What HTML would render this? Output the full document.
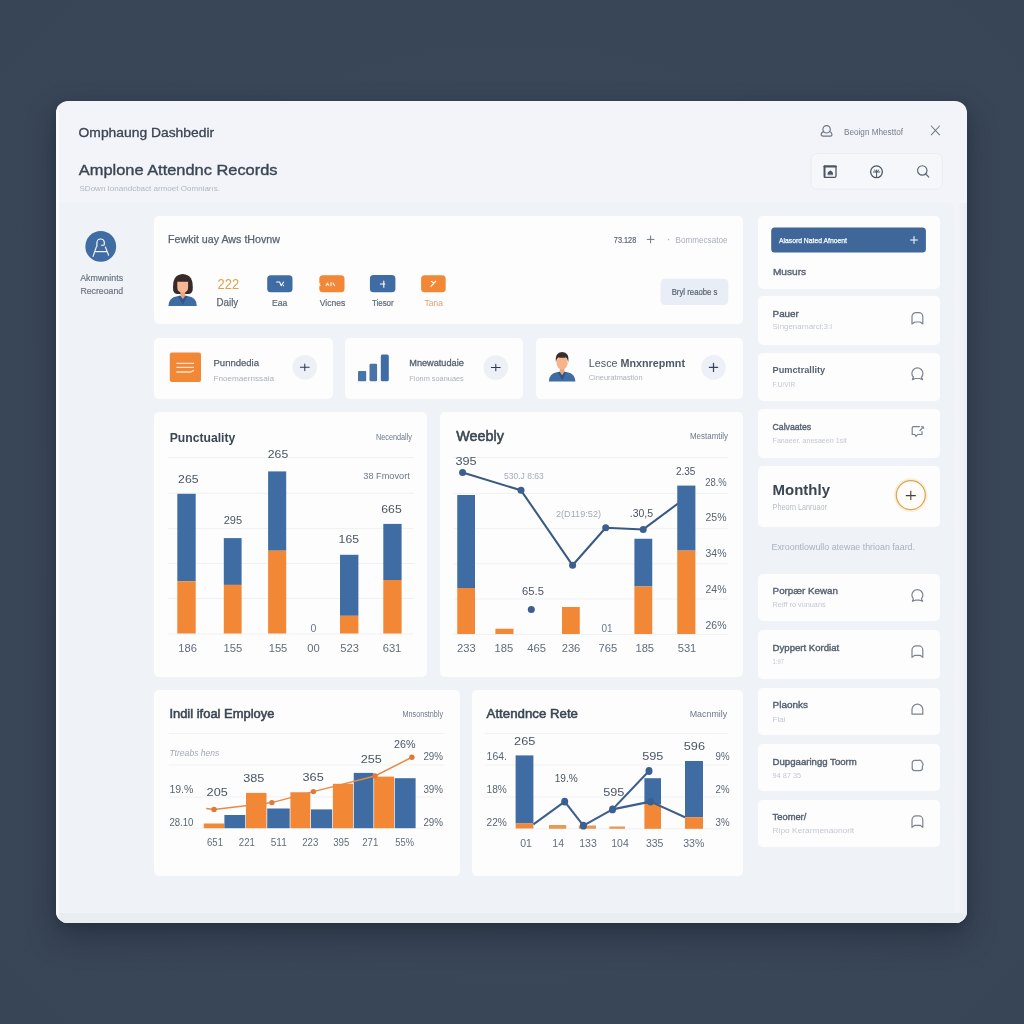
<!DOCTYPE html>
<html lang="en"><head><meta charset="utf-8"><title>Attendance Dashboard</title>
<style>
html,body{margin:0;padding:0;}
body{width:1024px;height:1024px;overflow:hidden;position:relative;background:#394657;
 background:radial-gradient(ellipse 900px 900px at 50% 50%, #3b485a 0%, #394657 60%, #374454 100%);
 font-family:"Liberation Sans",sans-serif;}
.win{position:absolute;left:56.2px;top:101px;width:911px;height:822.4px;border-radius:12px;background:#f2f4f9;
 box-shadow:0 14px 30px rgba(18,26,40,.36),0 3px 8px rgba(18,26,40,.22);overflow:hidden;}
.inner{position:absolute;left:0;top:101.8px;width:911px;height:721px;background:#eff2f7;}
.rstrip{position:absolute;left:898.5px;top:101.8px;width:12.5px;height:721px;background:linear-gradient(90deg,#f3f5f9,#eaedf2);}
.lip{position:absolute;left:0;top:811.6px;width:911px;height:11px;background:linear-gradient(180deg,#e9ecf1 0,#e9ecf1 85%,#f6f8fb 100%);}
.lrim{position:absolute;left:0;top:0;width:2.5px;height:100%;background:rgba(255,255,255,.7);}
.card{position:absolute;background:#fdfdfe;border-radius:5px;}
svg text{font-family:"Liberation Sans",sans-serif;}
#ov{position:absolute;left:0;top:0;}
</style></head><body>
<div class="win"><div class="inner"></div><div class="rstrip"></div><div class="lip"></div><div class="lrim"></div></div>
<!-- cards (absolute page coords) -->
<div class="card" style="left:153.5px;top:216.3px;width:589px;height:107.5px"></div>
<div class="card" style="left:153.5px;top:337.5px;width:179px;height:61.2px"></div>
<div class="card" style="left:345px;top:337.5px;width:177.5px;height:61.2px"></div>
<div class="card" style="left:535.5px;top:337.5px;width:207px;height:61.2px"></div>
<div class="card" style="left:153.5px;top:412px;width:273.5px;height:265px"></div>
<div class="card" style="left:440px;top:412px;width:302.7px;height:265px"></div>
<div class="card" style="left:153.5px;top:689.8px;width:306px;height:186px"></div>
<div class="card" style="left:472px;top:689.8px;width:270.8px;height:186px"></div>
<div class="card" style="left:757.5px;top:216.3px;width:182.5px;height:72.3px"></div>
<div class="card" style="left:757.5px;top:465.6px;width:182.5px;height:61.4px"></div>
<div class="card" style="left:757.5px;top:296.2px;width:182.5px;height:48.7px"></div><div class="card" style="left:757.5px;top:353px;width:182.5px;height:47.8px"></div><div class="card" style="left:757.5px;top:409px;width:182.5px;height:48.9px"></div><div class="card" style="left:757.5px;top:574.2px;width:182.5px;height:47.3px"></div><div class="card" style="left:757.5px;top:630px;width:182.5px;height:48.7px"></div><div class="card" style="left:757.5px;top:687.7px;width:182.5px;height:47.3px"></div><div class="card" style="left:757.5px;top:743.6px;width:182.5px;height:47.9px"></div><div class="card" style="left:757.5px;top:800px;width:182.5px;height:46.8px"></div>
<svg id="ov" width="1024" height="1024" viewBox="0 0 1024 1024">
<!-- header -->
<text x="78.6" y="132.3" font-size="13" fill="#3a4551" font-weight="400" text-anchor="start" dominant-baseline="central" textLength="135.5" lengthAdjust="spacingAndGlyphs" stroke="#3a4551" stroke-width="0.3">Omphaung Dashbedir</text>
<text x="78.8" y="169.3" font-size="15.4" fill="#3a4653" font-weight="400" text-anchor="start" dominant-baseline="central" textLength="198.7" lengthAdjust="spacingAndGlyphs" stroke="#3a4653" stroke-width="0.38">Amplone Attendnc Records</text>
<text x="79.5" y="188" font-size="8" fill="#b1b7c1" font-weight="400" text-anchor="start" dominant-baseline="central" textLength="140.5" lengthAdjust="spacingAndGlyphs">SDown Ionandcbact armoet Oomniarıs.</text>
<!-- user -->
<g fill="none" stroke="#6b7480" stroke-width="1.15" stroke-linecap="round" stroke-linejoin="round">
<circle cx="826.6" cy="129.3" r="3.7"/>
<path d="M823.6 131.6 q-2.6 1 -2.4 3.2 q0.2 1.3 1.8 1.3 h7.4 q1.6 0 1.6 -1.4 q0 -2.1 -2.2 -3.1"/>
<path d="M931.3 126 L939.5 134.8 M939.5 126 L931.3 134.8" stroke="#6e7783" stroke-width="1.05"/>
</g>
<text x="844" y="131.9" font-size="8.5" fill="#727c89" font-weight="400" text-anchor="start" dominant-baseline="central" textLength="59" lengthAdjust="spacingAndGlyphs">Beoign Mhesttof</text>
<rect x="811" y="153.4" width="131.3" height="35.8" rx="6" fill="#f5f7fa" stroke="#e9ecf1" stroke-width="1"/>
<g fill="none" stroke="#4d5663" stroke-width="1.3" stroke-linecap="round" stroke-linejoin="round">
<rect x="824.4" y="166.2" width="11.6" height="11.2" rx="1.5"/>
<path d="M824.4 166.5 h11.6" stroke-width="2"/>
<path d="M824.6 166.2 v11" stroke-width="1.8"/>
<path d="M827.8 174.4 q-0.4 -2.4 2.4 -3.6 q3 1 2.6 3.6 z" fill="#4d5663" stroke-width="0.6"/>
<circle cx="876.5" cy="171.8" r="5.9"/>
<path d="M873.4 172 h6.4 M876.6 170 v7.4 M874.4 170 l2.2 2 l2.2 -2" stroke-width="1"/>
<circle cx="922.3" cy="170.4" r="4.7" stroke="#5b6470" stroke-width="1.15"/>
<path d="M925.8 174 L928.8 177.2" stroke="#5b6470" stroke-width="1.15"/>
</g>
<!-- left nav -->
<circle cx="100.75" cy="246.4" r="15.4" fill="#3f6da3"/>
<g fill="none" stroke="#ffffff" stroke-width="1.15" stroke-linecap="round" stroke-linejoin="round">
<path d="M96.9 246.4 V242.8 a3.7 3.7 0 0 1 7.4 -0.2 q0.1 2.6 -0.6 2.6 h-2.2"/>
<path d="M96.3 247 L93.1 256.4 M105.4 247 L108.6 255.2 M95 251.6 H106.8" opacity=".92"/>
</g>
<text x="80.2" y="277.4" font-size="9.8" fill="#6a7684" font-weight="400" text-anchor="start" dominant-baseline="central" textLength="42.9" lengthAdjust="spacingAndGlyphs" stroke="#6a7684" stroke-width="0.2">Akmwnints</text>
<text x="80.4" y="290" font-size="9.8" fill="#6a7684" font-weight="400" text-anchor="start" dominant-baseline="central" textLength="42.7" lengthAdjust="spacingAndGlyphs" stroke="#6a7684" stroke-width="0.2">Recreoand</text>
<!-- top card -->
<text x="168" y="239.5" font-size="10.3" fill="#5a6471" font-weight="400" text-anchor="start" dominant-baseline="central" textLength="112" lengthAdjust="spacingAndGlyphs" stroke="#5a6471" stroke-width="0.25">Fewkit uay Aws tHovnw</text>
<text x="613.8" y="239.5" font-size="8.8" fill="#5d6876" font-weight="400" text-anchor="start" dominant-baseline="central" textLength="22.5" lengthAdjust="spacingAndGlyphs" stroke="#5d6876" stroke-width="0.2">73.128</text>
<path d="M647.2 239.4 h6.8 M650.6 236.0 v6.8" stroke="#6d7886" stroke-width="1" fill="none" stroke-linecap="round"/>
<text x="727.5" y="239.5" font-size="8.8" fill="#a9b0ba" font-weight="400" text-anchor="end" dominant-baseline="central" textLength="52" lengthAdjust="spacingAndGlyphs">Bommecsatoe</text><circle cx="668.6" cy="239.6" r="0.8" fill="#b4bbc6"/>
<rect x="660.5" y="278.8" width="67.8" height="26.3" rx="4.5" fill="#e9edf5"/>
<text x="694.6" y="291.3" font-size="9.4" fill="#58636f" font-weight="400" text-anchor="middle" dominant-baseline="central" textLength="45.8" lengthAdjust="spacingAndGlyphs" stroke="#58636f" stroke-width="0.2">Bryl reaobe s</text>
<!-- female avatar -->
<g>
<path d="M168.4 305.9 q0.3 -8.4 8.8 -9.6 l5.6 -1 l5.6 1 q8.2 1.2 8.4 9.6 z" fill="#3f6da3"/>
<path d="M173.2 290.2 q-1.4 -15.6 9.5 -16.2 q11.4 0.6 9.9 16.2 q-0.8 3.6 -4.2 3.8 h-11 q-3.4 -0.2 -4.2 -3.8z" fill="#38292a"/>
<path d="M180.4 290.6 h4.8 v5 l-2.4 3.4 l-2.4 -3.4z" fill="#eea57f"/>
<path d="M177.3 281.8 h10.8 v5.6 q0 5 -5.4 5.2 q-5.4 -0.2 -5.4 -5.2z" fill="#f6b794"/>
<path d="M179.6 295.6 l3.2 4.2 l3.2 -4.2 l1.4 1.2 l-4.6 8 l-4.6 -8z" fill="#2f5688" opacity=".9"/>
</g>
<text x="217.6" y="283.2" font-size="15.4" fill="#dda349" font-weight="400" text-anchor="start" dominant-baseline="central" textLength="21.6" lengthAdjust="spacingAndGlyphs">222</text>
<text x="216.6" y="302.8" font-size="10.4" fill="#5d6876" font-weight="400" text-anchor="start" dominant-baseline="central" textLength="21.6" lengthAdjust="spacingAndGlyphs" stroke="#5d6876" stroke-width="0.25">Daily</text>
<rect x="267.2" y="275.2" width="25.3" height="17.1" rx="3.6" fill="#3f6da3"/>
<rect x="319.3" y="275.3" width="25.2" height="17" rx="3.6" fill="#f28735"/>
<rect x="369.9" y="275.1" width="25.5" height="17.2" rx="3.6" fill="#3f6da3"/>
<rect x="421.1" y="275.3" width="24.6" height="17" rx="3.6" fill="#f28735"/>
<g stroke="#ffffff" stroke-width="1.1" fill="none" stroke-linecap="round">
<path d="M276.6 282 h3 M279.6 282 l1.6 3.6 M283.6 282 l-2.4 3.6 M283.4 285.4 v0.4"/>
<path d="M326 285.6 l1.4 -2.4 l1.4 2.2 M331 282.4 v3.4 M333 283 l1.6 2.6" opacity=".9"/>
<path d="M380.4 284 h4.4 M383.8 281 v6.2"/>
<path d="M431 286.4 l4.8 -5.2 M431.4 281.6 l2.6 1.2"/>
</g>
<path d="M319 283.6 l1.6 -1 l-1 1.8 l1.4 1.2 l-2 0.6z" fill="#fdfdfe"/>
<text x="272" y="302.4" font-size="9.6" fill="#5d6876" font-weight="400" text-anchor="start" dominant-baseline="central" textLength="15.3" lengthAdjust="spacingAndGlyphs" stroke="#5d6876" stroke-width="0.2">Eaa</text>
<text x="319.8" y="302.8" font-size="9.6" fill="#5d6876" font-weight="400" text-anchor="start" dominant-baseline="central" textLength="25.4" lengthAdjust="spacingAndGlyphs" stroke="#5d6876" stroke-width="0.2">Vicnes</text>
<text x="371.9" y="302.8" font-size="9.6" fill="#5d6876" font-weight="400" text-anchor="start" dominant-baseline="central" textLength="21.8" lengthAdjust="spacingAndGlyphs" stroke="#5d6876" stroke-width="0.2">Tiesor</text>
<text x="424.6" y="302.8" font-size="9.6" fill="#d9a07a" font-weight="400" text-anchor="start" dominant-baseline="central" textLength="18.3" lengthAdjust="spacingAndGlyphs">Tana</text>
<!-- small cards -->
<rect x="169.8" y="352.5" width="31.2" height="29.5" rx="2" fill="#f28735"/>
<path d="M176.4 363.4 h17.6 M176.4 367.4 h17.6 M176.4 372 h14 l3.6 -1.6" stroke="#fbe3cf" stroke-width="1.3" fill="none"/>
<text x="213.5" y="362.6" font-size="9.5" fill="#55606e" font-weight="400" text-anchor="start" dominant-baseline="central" textLength="45.5" lengthAdjust="spacingAndGlyphs" stroke="#55606e" stroke-width="0.25">Punndedia</text>
<text x="213.5" y="378" font-size="8" fill="#abb1bb" font-weight="400" text-anchor="start" dominant-baseline="central" textLength="60.5" lengthAdjust="spacingAndGlyphs">Fnoemaernssaia</text>
<circle cx="304.8" cy="367.3" r="12.3" fill="#edf0f7"/>
<path d="M300.4 367.3 h8.8 M304.8 364 v6.6" stroke="#2f3a4e" stroke-width="1.05" fill="none" stroke-linecap="round"/>
<rect x="358" y="371" width="8.2" height="10.3" rx="1" fill="#4a74a8"/>
<rect x="369.5" y="363.8" width="7.6" height="17.5" rx="1.2" fill="#4a74a8"/>
<rect x="380.8" y="354.5" width="8" height="26.8" rx="1.6" fill="#3f6da3"/>
<text x="409.3" y="362.6" font-size="9.5" fill="#55606e" font-weight="400" text-anchor="start" dominant-baseline="central" textLength="54.5" lengthAdjust="spacingAndGlyphs" stroke="#55606e" stroke-width="0.3">Mnewatudaie</text>
<text x="409.3" y="378" font-size="8" fill="#abb1bb" font-weight="400" text-anchor="start" dominant-baseline="central" textLength="54.5" lengthAdjust="spacingAndGlyphs">Fionm soanuaes</text>
<circle cx="495.8" cy="367.5" r="12.3" fill="#edf0f7"/>
<path d="M491.4 367.5 h8.8 M495.8 364.2 v6.6" stroke="#2f3a4e" stroke-width="1.05" fill="none" stroke-linecap="round"/>
<!-- male avatar -->
<g>
<path d="M548.8 381.4 q0.4 -7.8 8 -9.2 l5.3 -1 l5.3 1 q7.6 1.4 8 9.2z" fill="#3f6da3"/>
<path d="M559.8 367 h4.6 v5 l-2.3 3.4 l-2.3 -3.4z" fill="#eea57c"/>
<ellipse cx="562.1" cy="362.8" rx="5.6" ry="6.6" fill="#f6b48b"/>
<path d="M555.9 362.6 q-1.4 -10 6.2 -10.5 q7.6 0.3 6.2 10.5 q-0.8 -4.4 -2.4 -5.2 q-3.8 0.8 -7.6 0 q-1.6 0.8 -2.4 5.2z" fill="#3b2b2a"/>
<path d="M559.6 371.8 l2.5 3.6 l2.5 -3.6 l1.4 1 l-3.9 7.4 l-3.9 -7.4z" fill="#2f5688"/>
</g>
<text x="588.8" y="362.5" font-size="11.2" fill="#4d5866" font-weight="400" text-anchor="start" dominant-baseline="central" textLength="96.2" lengthAdjust="spacingAndGlyphs">Lesce <tspan font-weight="700">Mnxnrepmnt</tspan></text>
<text x="588.8" y="377.6" font-size="8" fill="#abb1bb" font-weight="400" text-anchor="start" dominant-baseline="central" textLength="53.7" lengthAdjust="spacingAndGlyphs">Cineuratmastion</text>
<circle cx="713.5" cy="367.4" r="12.3" fill="#edf0f7"/>
<path d="M709.4 367.4 h8.2 M713.5 363.29999999999995 v8.2" stroke="#36445c" stroke-width="1.25" fill="none" stroke-linecap="round"/>
<!-- right column -->
<rect x="771.2" y="227.4" width="154.7" height="25.2" rx="3.5" fill="#3f679a"/>
<text x="778.9" y="240" font-size="7.8" fill="#ffffff" font-weight="400" text-anchor="start" dominant-baseline="central" textLength="68.1" lengthAdjust="spacingAndGlyphs" stroke="#ffffff" stroke-width="0.25">Alasord Nated Afnoent</text>
<path d="M910.5 240 h7.0 M914 236.5 v7.0" stroke="#ffffff" stroke-width="1" fill="none" stroke-linecap="round"/>
<text x="772.9" y="271.9" font-size="9.9" fill="#5a6573" font-weight="400" text-anchor="start" dominant-baseline="central" textLength="33.3" lengthAdjust="spacingAndGlyphs" stroke="#5a6573" stroke-width="0.4">Musurs</text>
<text x="772.6" y="489.1" font-size="15.3" fill="#3a4653" font-weight="700" text-anchor="start" dominant-baseline="central" textLength="57.4" lengthAdjust="spacingAndGlyphs">Monthly</text>
<text x="772.6" y="507" font-size="8.2" fill="#b7bdc7" font-weight="400" text-anchor="start" dominant-baseline="central" textLength="54.4" lengthAdjust="spacingAndGlyphs">Pheorn Lanruaor</text>
<circle cx="910.8" cy="495.1" r="16" fill="none" stroke="#f7e8d0" stroke-width="1.6" opacity=".75"/>
<circle cx="910.8" cy="495.1" r="14.5" fill="#fffdf9" stroke="#dca655" stroke-width="1.3"/>
<path d="M905.8 495.6 h10 M910.8 490.8 v9.2" stroke="#4a4036" stroke-width="1.1" fill="none"/>
<text x="771.5" y="546.7" font-size="9" fill="#aab2bd" font-weight="400" text-anchor="start" dominant-baseline="central" textLength="143.5" lengthAdjust="spacingAndGlyphs">Exroontlowullo atewae thrioan faard.</text>
<text x="772.6" y="313.3" font-size="9.5" fill="#566170" font-weight="400" text-anchor="start" dominant-baseline="central" textLength="26.2" lengthAdjust="spacingAndGlyphs" stroke="#566170" stroke-width="0.4">Pauer</text>
<text x="772.6" y="326.8" font-size="8" fill="#c3c8d0" font-weight="400" text-anchor="start" dominant-baseline="central" textLength="59.4" lengthAdjust="spacingAndGlyphs">Singenarnarcl:3:l</text>
<path transform="translate(911.2,311.8)" d="M0.8 12.2 V4.8 a4 4 0 0 1 4 -4 h2.8 a4 4 0 0 1 4 4 V12.2 L9 10.2 H3.6 Z" fill="none" stroke="#7b838e" stroke-width="1.2" stroke-linejoin="round" stroke-linecap="round"/>
<text x="772.6" y="369.8" font-size="9.5" fill="#566170" font-weight="700" text-anchor="start" dominant-baseline="central" textLength="52.6" lengthAdjust="spacingAndGlyphs">Pumctrallity</text>
<text x="772.6" y="384.2" font-size="8" fill="#c3c8d0" font-weight="400" text-anchor="start" dominant-baseline="central" textLength="22.5" lengthAdjust="spacingAndGlyphs">F.U/VIR</text>
<path transform="translate(911.2,367.6)" d="M1.2 12 L2.2 9.6 A5.5 5.5 0 1 1 10.2 9.6 L11.4 12 L8.4 10.9 H4.2 Z" fill="none" stroke="#7b838e" stroke-width="1.2" stroke-linejoin="round" stroke-linecap="round"/>
<text x="772.6" y="426.5" font-size="9.5" fill="#566170" font-weight="400" text-anchor="start" dominant-baseline="central" textLength="38.6" lengthAdjust="spacingAndGlyphs" stroke="#566170" stroke-width="0.4">Calvaates</text>
<text x="772.6" y="440" font-size="8" fill="#c3c8d0" font-weight="400" text-anchor="start" dominant-baseline="central" textLength="74.1" lengthAdjust="spacingAndGlyphs">Fanaeer. anesaeen 1sit</text>
<path transform="translate(911.2,425.1)" d="M8.2 1.6 H2.2 a1.2 1.2 0 0 0 -1.2 1.2 V9.4 H3.6 L4.8 11.4 L6.4 9.4 H10.8 V6.6 M8.8 5.4 L12.2 1.8 M10.6 1.4 l1.9 1.7" fill="none" stroke="#7b838e" stroke-width="1.2" stroke-linejoin="round" stroke-linecap="round"/>
<text x="772.6" y="590.7" font-size="9.5" fill="#566170" font-weight="400" text-anchor="start" dominant-baseline="central" textLength="65.4" lengthAdjust="spacingAndGlyphs" stroke="#566170" stroke-width="0.36000000000000004">Porpær Kewan</text>
<text x="772.6" y="604.3" font-size="8" fill="#c3c8d0" font-weight="400" text-anchor="start" dominant-baseline="central" textLength="53" lengthAdjust="spacingAndGlyphs">Reiff ro vunuans</text>
<path transform="translate(911.2,589.3)" d="M1.2 12 L2.2 9.6 A5.5 5.5 0 1 1 10.2 9.6 L11.4 12 L8.4 10.9 H4.2 Z" fill="none" stroke="#7b838e" stroke-width="1.2" stroke-linejoin="round" stroke-linecap="round"/>
<text x="772.6" y="647.2" font-size="9.5" fill="#566170" font-weight="400" text-anchor="start" dominant-baseline="central" textLength="66.6" lengthAdjust="spacingAndGlyphs" stroke="#566170" stroke-width="0.4">Dyppert Kordiat</text>
<text x="772.6" y="661.6" font-size="8" fill="#c3c8d0" font-weight="400" text-anchor="start" dominant-baseline="central" textLength="11.4" lengthAdjust="spacingAndGlyphs">1:97</text>
<path transform="translate(911.2,645.1)" d="M0.8 12.2 V4.8 a4 4 0 0 1 4 -4 h2.8 a4 4 0 0 1 4 4 V12.2 L9 10.2 H3.6 Z" fill="none" stroke="#7b838e" stroke-width="1.2" stroke-linejoin="round" stroke-linecap="round"/>
<text x="772.6" y="704.9" font-size="9.5" fill="#566170" font-weight="400" text-anchor="start" dominant-baseline="central" textLength="35.4" lengthAdjust="spacingAndGlyphs" stroke="#566170" stroke-width="0.4">Plaonks</text>
<text x="772.6" y="719" font-size="8" fill="#c3c8d0" font-weight="400" text-anchor="start" dominant-baseline="central" textLength="12.9" lengthAdjust="spacingAndGlyphs">Flai</text>
<path transform="translate(911.2,702.8)" d="M0.8 11.4 V6.8 a5.4 5.4 0 0 1 10.8 0 V11.4 Z" fill="none" stroke="#7b838e" stroke-width="1.2" stroke-linejoin="round" stroke-linecap="round"/>
<text x="772.6" y="761.4" font-size="9.5" fill="#566170" font-weight="400" text-anchor="start" dominant-baseline="central" textLength="84.2" lengthAdjust="spacingAndGlyphs" stroke="#566170" stroke-width="0.4">Dupgaaringg Toorm</text>
<text x="772.6" y="775" font-size="8" fill="#c3c8d0" font-weight="400" text-anchor="start" dominant-baseline="central" textLength="28.6" lengthAdjust="spacingAndGlyphs">94 87 35</text>
<path transform="translate(911.2,758.6)" d="M1 4.4 a2.6 2.6 0 0 1 2.6 -2.6 H7.4 a2.6 2.6 0 0 1 3.6 2.4 a2.3 2.3 0 0 1 0.2 3.4 V9.4 a2.6 2.6 0 0 1 -2.6 2.6 H3.6 a2.6 2.6 0 0 1 -2.6 -2.6 Z" fill="none" stroke="#7b838e" stroke-width="1.2" stroke-linejoin="round" stroke-linecap="round"/>
<text x="772.6" y="816.6" font-size="9.5" fill="#566170" font-weight="400" text-anchor="start" dominant-baseline="central" textLength="33.7" lengthAdjust="spacingAndGlyphs" stroke="#566170" stroke-width="0.4">Teomer/</text>
<text x="772.6" y="830.8" font-size="8" fill="#c3c8d0" font-weight="400" text-anchor="start" dominant-baseline="central" textLength="81.6" lengthAdjust="spacingAndGlyphs">Ripo Kerarmenaonorit</text>
<path transform="translate(911.2,815.1)" d="M0.8 12.2 V4.8 a4 4 0 0 1 4 -4 h2.8 a4 4 0 0 1 4 4 V12.2 L9 10.2 H3.6 Z" fill="none" stroke="#7b838e" stroke-width="1.2" stroke-linejoin="round" stroke-linecap="round"/>
<line x1="168" y1="457.5" x2="414" y2="457.5" stroke="#f0f1f3" stroke-width="1"/>
<line x1="168" y1="493.3" x2="414" y2="493.3" stroke="#f0f1f3" stroke-width="1"/>
<line x1="168" y1="528.6" x2="414" y2="528.6" stroke="#f0f1f3" stroke-width="1"/>
<line x1="168" y1="563.5" x2="414" y2="563.5" stroke="#f0f1f3" stroke-width="1"/>
<line x1="168" y1="598.5" x2="414" y2="598.5" stroke="#f0f1f3" stroke-width="1"/>
<line x1="168" y1="634" x2="414" y2="634" stroke="#f0f1f3" stroke-width="1"/>
<rect x="177.30" y="493.80" width="18.40" height="87.50" fill="#3f6da3" rx="0"/>
<rect x="177.30" y="581.30" width="18.40" height="52.20" fill="#f28735" rx="0"/>
<rect x="223.80" y="538.10" width="17.80" height="46.80" fill="#3f6da3" rx="0"/>
<rect x="223.80" y="584.90" width="17.80" height="48.60" fill="#f28735" rx="0"/>
<rect x="268.10" y="471.40" width="18.10" height="79.30" fill="#3f6da3" rx="0"/>
<rect x="268.10" y="550.70" width="18.10" height="82.80" fill="#f28735" rx="0"/>
<rect x="340.00" y="554.80" width="18.40" height="61.00" fill="#3f6da3" rx="0"/>
<rect x="340.00" y="615.80" width="18.40" height="17.70" fill="#f28735" rx="0"/>
<rect x="383.30" y="523.90" width="18.30" height="56.10" fill="#3f6da3" rx="0"/>
<rect x="383.30" y="580.00" width="18.30" height="53.50" fill="#f28735" rx="0"/>
<text x="188.3" y="478.8" font-size="10.6" fill="#4a5563" font-weight="400" text-anchor="middle" dominant-baseline="central" textLength="20.4" lengthAdjust="spacingAndGlyphs">265</text>
<text x="232.9" y="519.8" font-size="10.6" fill="#4a5563" font-weight="400" text-anchor="middle" dominant-baseline="central" textLength="18.4" lengthAdjust="spacingAndGlyphs">295</text>
<text x="278" y="454.2" font-size="10.6" fill="#4a5563" font-weight="400" text-anchor="middle" dominant-baseline="central" textLength="20.4" lengthAdjust="spacingAndGlyphs">265</text>
<text x="348.8" y="539" font-size="10.6" fill="#4a5563" font-weight="400" text-anchor="middle" dominant-baseline="central" textLength="20.4" lengthAdjust="spacingAndGlyphs">165</text>
<text x="391.5" y="509.4" font-size="10.6" fill="#4a5563" font-weight="400" text-anchor="middle" dominant-baseline="central" textLength="20.4" lengthAdjust="spacingAndGlyphs">665</text>
<text x="409.8" y="475.5" font-size="9.6" fill="#6d7886" font-weight="400" text-anchor="end" dominant-baseline="central" textLength="46.5" lengthAdjust="spacingAndGlyphs">38 Fmovort</text>
<text x="313.5" y="628.2" font-size="10.6" fill="#6d7886" font-weight="400" text-anchor="middle" dominant-baseline="central">0</text>
<text x="187.7" y="647.7" font-size="11.2" fill="#626d7a" font-weight="400" text-anchor="middle" dominant-baseline="central">186</text>
<text x="232.9" y="647.7" font-size="11.2" fill="#626d7a" font-weight="400" text-anchor="middle" dominant-baseline="central">155</text>
<text x="278" y="647.7" font-size="11.2" fill="#626d7a" font-weight="400" text-anchor="middle" dominant-baseline="central">155</text>
<text x="313.5" y="647.7" font-size="11.2" fill="#626d7a" font-weight="400" text-anchor="middle" dominant-baseline="central">00</text>
<text x="349.6" y="647.7" font-size="11.2" fill="#626d7a" font-weight="400" text-anchor="middle" dominant-baseline="central">523</text>
<text x="392" y="647.7" font-size="11.2" fill="#626d7a" font-weight="400" text-anchor="middle" dominant-baseline="central">631</text>
<text x="169.7" y="437" font-size="13" fill="#3a4653" font-weight="700" text-anchor="start" dominant-baseline="central" textLength="65.6" lengthAdjust="spacingAndGlyphs">Punctuality</text>
<text x="412" y="437" font-size="8.3" fill="#6d7886" font-weight="400" text-anchor="end" dominant-baseline="central" textLength="36" lengthAdjust="spacingAndGlyphs">Necendally</text>
<line x1="453" y1="457.5" x2="728" y2="457.5" stroke="#f0f1f3" stroke-width="1"/>
<line x1="453" y1="493.4" x2="728" y2="493.4" stroke="#f0f1f3" stroke-width="1"/>
<line x1="453" y1="528.4" x2="728" y2="528.4" stroke="#f0f1f3" stroke-width="1"/>
<line x1="453" y1="563.75" x2="728" y2="563.75" stroke="#f0f1f3" stroke-width="1"/>
<line x1="453" y1="599" x2="728" y2="599" stroke="#f0f1f3" stroke-width="1"/>
<line x1="453" y1="634.5" x2="728" y2="634.5" stroke="#f0f1f3" stroke-width="1"/>
<polyline fill="none" stroke="#3b5a82" stroke-width="2.05" stroke-linejoin="round" points="462.6,472.5 521,490.3 572.6,565.3 605.7,527.8 643.2,529.4 680,502"/>
<rect x="457.25" y="495.00" width="17.75" height="93.00" fill="#3f6da3" rx="0"/>
<rect x="457.25" y="588.00" width="17.75" height="46.00" fill="#f28735" rx="0"/>
<rect x="634.40" y="538.75" width="17.85" height="47.75" fill="#3f6da3" rx="0"/>
<rect x="634.40" y="586.50" width="17.85" height="47.50" fill="#f28735" rx="0"/>
<rect x="677.25" y="485.60" width="18.15" height="65.00" fill="#3f6da3" rx="0"/>
<rect x="677.25" y="550.60" width="18.15" height="83.40" fill="#f28735" rx="0"/>
<rect x="495.40" y="628.75" width="18.10" height="5.25" fill="#f28735" rx="0"/>
<rect x="562.00" y="607.00" width="17.75" height="27.00" fill="#f28735" rx="0"/>
<circle cx="462.6" cy="472.5" r="3.5" fill="#3a5f90"/>
<circle cx="521" cy="490.3" r="3.5" fill="#3a5f90"/>
<circle cx="572.6" cy="565.3" r="3.5" fill="#3a5f90"/>
<circle cx="605.7" cy="527.8" r="3.5" fill="#3a5f90"/>
<circle cx="643.2" cy="529.4" r="3.5" fill="#3a5f90"/>
<circle cx="531.3" cy="609.4" r="3.5" fill="#3a5f90"/>
<text x="466" y="460.6" font-size="10.8" fill="#4a5563" font-weight="400" text-anchor="middle" dominant-baseline="central" textLength="21.2" lengthAdjust="spacingAndGlyphs">395</text>
<text x="504" y="476" font-size="8.3" fill="#a4aab4" font-weight="400" text-anchor="start" dominant-baseline="central" textLength="39.8" lengthAdjust="spacingAndGlyphs">530.J 8:63</text>
<text x="556" y="513.75" font-size="8.6" fill="#a4aab4" font-weight="400" text-anchor="start" dominant-baseline="central" textLength="45" lengthAdjust="spacingAndGlyphs">2(D119:52)</text>
<text x="641.4" y="513" font-size="10.8" fill="#4a5563" font-weight="400" text-anchor="middle" dominant-baseline="central" textLength="23.3" lengthAdjust="spacingAndGlyphs">.30,5</text>
<text x="685.7" y="470.6" font-size="11.2" fill="#4a5563" font-weight="400" text-anchor="middle" dominant-baseline="central" textLength="19.5" lengthAdjust="spacingAndGlyphs">2.35</text>
<text x="533" y="591" font-size="11.2" fill="#4a5563" font-weight="400" text-anchor="middle" dominant-baseline="central" textLength="21.8" lengthAdjust="spacingAndGlyphs">65.5</text>
<text x="607" y="628.6" font-size="10" fill="#6d7886" font-weight="400" text-anchor="middle" dominant-baseline="central">01</text>
<text x="716" y="482.1" font-size="10.6" fill="#5a6573" font-weight="400" text-anchor="middle" dominant-baseline="central" textLength="21.5" lengthAdjust="spacingAndGlyphs">28.%</text>
<text x="716" y="517.4" font-size="10.6" fill="#5a6573" font-weight="400" text-anchor="middle" dominant-baseline="central" textLength="21" lengthAdjust="spacingAndGlyphs">25%</text>
<text x="716" y="553.35" font-size="10.6" fill="#5a6573" font-weight="400" text-anchor="middle" dominant-baseline="central" textLength="21" lengthAdjust="spacingAndGlyphs">34%</text>
<text x="716" y="589.3000000000001" font-size="10.6" fill="#5a6573" font-weight="400" text-anchor="middle" dominant-baseline="central" textLength="21" lengthAdjust="spacingAndGlyphs">24%</text>
<text x="716" y="624.9" font-size="10.6" fill="#5a6573" font-weight="400" text-anchor="middle" dominant-baseline="central" textLength="21" lengthAdjust="spacingAndGlyphs">26%</text>
<text x="466.3" y="648" font-size="11.2" fill="#626d7a" font-weight="400" text-anchor="middle" dominant-baseline="central">233</text>
<text x="503.8" y="648" font-size="11.2" fill="#626d7a" font-weight="400" text-anchor="middle" dominant-baseline="central">185</text>
<text x="536.6" y="648" font-size="11.2" fill="#626d7a" font-weight="400" text-anchor="middle" dominant-baseline="central">465</text>
<text x="571" y="648" font-size="11.2" fill="#626d7a" font-weight="400" text-anchor="middle" dominant-baseline="central">236</text>
<text x="607.9" y="648" font-size="11.2" fill="#626d7a" font-weight="400" text-anchor="middle" dominant-baseline="central">765</text>
<text x="644.75" y="648" font-size="11.2" fill="#626d7a" font-weight="400" text-anchor="middle" dominant-baseline="central">185</text>
<text x="687" y="648" font-size="11.2" fill="#626d7a" font-weight="400" text-anchor="middle" dominant-baseline="central">531</text>
<text x="456.3" y="435.6" font-size="14.6" fill="#3a4653" font-weight="400" text-anchor="start" dominant-baseline="central" textLength="47.7" lengthAdjust="spacingAndGlyphs" stroke="#3a4653" stroke-width="0.55">Weebly</text>
<text x="728" y="436" font-size="8.3" fill="#6d7886" font-weight="400" text-anchor="end" dominant-baseline="central" textLength="38" lengthAdjust="spacingAndGlyphs">Mestamtily</text>
<line x1="168.75" y1="733.5" x2="443.75" y2="733.5" stroke="#f0f1f3" stroke-width="1"/>
<line x1="168.75" y1="765" x2="443.75" y2="765" stroke="#f0f1f3" stroke-width="1"/>
<line x1="168.75" y1="797" x2="443.75" y2="797" stroke="#f0f1f3" stroke-width="1"/>
<line x1="168.75" y1="828.2" x2="443.75" y2="828.2" stroke="#f0f1f3" stroke-width="1"/>
<rect x="203.75" y="823.50" width="20.65" height="4.70" fill="#f28735" rx="0"/>
<rect x="224.40" y="815.00" width="20.90" height="13.20" fill="#3f6da3" rx="0"/>
<rect x="246.00" y="792.90" width="20.50" height="35.30" fill="#f28735" rx="0"/>
<rect x="267.20" y="808.50" width="22.50" height="19.70" fill="#3f6da3" rx="0"/>
<rect x="290.40" y="792.25" width="19.90" height="35.95" fill="#f28735" rx="0"/>
<rect x="311.00" y="809.40" width="21.20" height="18.80" fill="#3f6da3" rx="0"/>
<rect x="332.90" y="783.80" width="20.15" height="44.40" fill="#f28735" rx="0"/>
<rect x="353.75" y="772.90" width="19.65" height="55.30" fill="#3f6da3" rx="0"/>
<rect x="374.10" y="776.60" width="19.90" height="51.60" fill="#f28735" rx="0"/>
<rect x="394.70" y="778.20" width="20.90" height="50.00" fill="#3f6da3" rx="0"/>
<polyline fill="none" stroke="#e88a43" stroke-width="1.5" stroke-linejoin="round" points="206.25,808.5 214,809.4 271.9,802.6 313.4,791.6 375,776 411.9,757.25"/>
<circle cx="214" cy="809.4" r="2.7" fill="#de7a38"/>
<circle cx="271.9" cy="802.6" r="2.7" fill="#de7a38"/>
<circle cx="313.4" cy="791.6" r="2.7" fill="#de7a38"/>
<circle cx="375" cy="776" r="2.7" fill="#de7a38"/>
<circle cx="411.9" cy="757.25" r="2.7" fill="#de7a38"/>
<text x="217.2" y="792.25" font-size="11.2" fill="#4a5563" font-weight="400" text-anchor="middle" dominant-baseline="central" textLength="21.2" lengthAdjust="spacingAndGlyphs">205</text>
<text x="253.75" y="778.2" font-size="11.2" fill="#4a5563" font-weight="400" text-anchor="middle" dominant-baseline="central" textLength="21.2" lengthAdjust="spacingAndGlyphs">385</text>
<text x="313.1" y="776.6" font-size="11.2" fill="#4a5563" font-weight="400" text-anchor="middle" dominant-baseline="central" textLength="21.2" lengthAdjust="spacingAndGlyphs">365</text>
<text x="371.25" y="758.5" font-size="11.2" fill="#4a5563" font-weight="400" text-anchor="middle" dominant-baseline="central" textLength="21.2" lengthAdjust="spacingAndGlyphs">255</text>
<text x="404.7" y="743.8" font-size="10.6" fill="#4a5563" font-weight="400" text-anchor="middle" dominant-baseline="central" textLength="21.5" lengthAdjust="spacingAndGlyphs">26%</text>
<text x="169.4" y="789.5" font-size="10.4" fill="#5a6573" font-weight="400" text-anchor="start" dominant-baseline="central" textLength="24" lengthAdjust="spacingAndGlyphs">19.%</text>
<text x="169.4" y="822" font-size="10.2" fill="#5a6573" font-weight="400" text-anchor="start" dominant-baseline="central" textLength="24" lengthAdjust="spacingAndGlyphs">28.10</text>
<text x="433.2" y="756.3" font-size="10" fill="#5a6573" font-weight="400" text-anchor="middle" dominant-baseline="central" textLength="19.6" lengthAdjust="spacingAndGlyphs">29%</text>
<text x="433.2" y="789" font-size="10" fill="#5a6573" font-weight="400" text-anchor="middle" dominant-baseline="central" textLength="19.6" lengthAdjust="spacingAndGlyphs">39%</text>
<text x="433.2" y="822" font-size="10" fill="#5a6573" font-weight="400" text-anchor="middle" dominant-baseline="central" textLength="19.6" lengthAdjust="spacingAndGlyphs">29%</text>
<text x="215" y="842.1" font-size="10.8" fill="#626d7a" font-weight="400" text-anchor="middle" dominant-baseline="central" textLength="16.1" lengthAdjust="spacingAndGlyphs">651</text>
<text x="246.9" y="842.1" font-size="10.8" fill="#626d7a" font-weight="400" text-anchor="middle" dominant-baseline="central" textLength="16.1" lengthAdjust="spacingAndGlyphs">221</text>
<text x="278.75" y="842.1" font-size="10.8" fill="#626d7a" font-weight="400" text-anchor="middle" dominant-baseline="central" textLength="16.1" lengthAdjust="spacingAndGlyphs">511</text>
<text x="310.3" y="842.1" font-size="10.8" fill="#626d7a" font-weight="400" text-anchor="middle" dominant-baseline="central" textLength="16.1" lengthAdjust="spacingAndGlyphs">223</text>
<text x="341.25" y="842.1" font-size="10.8" fill="#626d7a" font-weight="400" text-anchor="middle" dominant-baseline="central" textLength="16.1" lengthAdjust="spacingAndGlyphs">395</text>
<text x="370.3" y="842.1" font-size="10.8" fill="#626d7a" font-weight="400" text-anchor="middle" dominant-baseline="central" textLength="16.1" lengthAdjust="spacingAndGlyphs">271</text>
<text x="404.7" y="842.1" font-size="10.8" fill="#626d7a" font-weight="400" text-anchor="middle" dominant-baseline="central" textLength="18.7" lengthAdjust="spacingAndGlyphs">55%</text>
<text x="169.4" y="752.5" font-size="8.4" fill="#a3aab4" font-weight="400" text-anchor="start" dominant-baseline="central" font-style="italic" textLength="50" lengthAdjust="spacingAndGlyphs">Ttreabs hens</text>
<text x="169.4" y="713.5" font-size="13.3" fill="#3a4653" font-weight="400" text-anchor="start" dominant-baseline="central" textLength="105" lengthAdjust="spacingAndGlyphs" stroke="#3a4653" stroke-width="0.55">Indil ifoal Employe</text>
<text x="443" y="713.5" font-size="8.3" fill="#6d7886" font-weight="400" text-anchor="end" dominant-baseline="central" textLength="40.5" lengthAdjust="spacingAndGlyphs">Mnsonstnbly</text>
<line x1="485" y1="733.5" x2="728" y2="733.5" stroke="#f0f1f3" stroke-width="1"/>
<line x1="485" y1="765" x2="728" y2="765" stroke="#f0f1f3" stroke-width="1"/>
<line x1="485" y1="797" x2="728" y2="797" stroke="#f0f1f3" stroke-width="1"/>
<line x1="485" y1="828.8" x2="728" y2="828.8" stroke="#f0f1f3" stroke-width="1"/>
<rect x="515.60" y="755.40" width="17.80" height="68.10" fill="#3f6da3" rx="0"/>
<rect x="515.60" y="823.50" width="17.80" height="5.00" fill="#f28735" rx="0"/>
<rect x="549.00" y="825.00" width="17.25" height="3.80" fill="#e89a55" rx="0"/>
<rect x="578.75" y="825.50" width="17.25" height="3.30" fill="#e89a55" rx="0"/>
<rect x="609.40" y="826.50" width="15.60" height="2.30" fill="#e89a55" rx="0"/>
<rect x="644.40" y="778.20" width="16.60" height="25.80" fill="#3f6da3" rx="0"/>
<rect x="644.40" y="804.00" width="16.60" height="24.80" fill="#f28735" rx="0"/>
<rect x="685.00" y="761.00" width="18.00" height="56.25" fill="#3f6da3" rx="0"/>
<rect x="685.00" y="817.25" width="18.00" height="11.55" fill="#f28735" rx="0"/>
<polyline fill="none" stroke="#3c5f8c" stroke-width="2.1" stroke-linejoin="round" points="533.4,824.4 564.7,801.6 583.4,825.7 612.5,809.4 649,771"/>
<polyline fill="none" stroke="#3c5f8c" stroke-width="2.1" stroke-linejoin="round" points="612.5,809.4 650.6,801.6 685,817.25"/>
<ellipse cx="564.7" cy="801.6" rx="3.5" ry="3.9" fill="#3a6093"/>
<ellipse cx="583.4" cy="825.7" rx="3.5" ry="3.9" fill="#3a6093"/>
<ellipse cx="612.5" cy="809.4" rx="3.5" ry="3.9" fill="#3a6093"/>
<ellipse cx="649" cy="771" rx="3.5" ry="3.9" fill="#3a6093"/>
<ellipse cx="650.6" cy="801.6" rx="3.5" ry="3.9" fill="#3a6093"/>
<text x="524.7" y="741.3" font-size="11.2" fill="#4a5563" font-weight="400" text-anchor="middle" dominant-baseline="central" textLength="21.2" lengthAdjust="spacingAndGlyphs">265</text>
<text x="613.75" y="792.25" font-size="11.2" fill="#4a5563" font-weight="400" text-anchor="middle" dominant-baseline="central" textLength="21.2" lengthAdjust="spacingAndGlyphs">595</text>
<text x="652.8" y="756.3" font-size="11.2" fill="#4a5563" font-weight="400" text-anchor="middle" dominant-baseline="central" textLength="21.2" lengthAdjust="spacingAndGlyphs">595</text>
<text x="694.4" y="746" font-size="11.2" fill="#4a5563" font-weight="400" text-anchor="middle" dominant-baseline="central" textLength="21.2" lengthAdjust="spacingAndGlyphs">596</text>
<text x="566.25" y="778.2" font-size="10" fill="#4a5563" font-weight="400" text-anchor="middle" dominant-baseline="central" textLength="23" lengthAdjust="spacingAndGlyphs">19.%</text>
<text x="486.6" y="756.3" font-size="10" fill="#5a6573" font-weight="400" text-anchor="start" dominant-baseline="central" textLength="20.3" lengthAdjust="spacingAndGlyphs">164.</text>
<text x="486.6" y="789" font-size="10" fill="#5a6573" font-weight="400" text-anchor="start" dominant-baseline="central" textLength="20.3" lengthAdjust="spacingAndGlyphs">18%</text>
<text x="486.6" y="822" font-size="10" fill="#5a6573" font-weight="400" text-anchor="start" dominant-baseline="central" textLength="20.3" lengthAdjust="spacingAndGlyphs">22%</text>
<text x="722.6" y="756.3" font-size="10.3" fill="#5a6573" font-weight="400" text-anchor="middle" dominant-baseline="central" textLength="14" lengthAdjust="spacingAndGlyphs">9%</text>
<text x="722.6" y="789" font-size="10.3" fill="#5a6573" font-weight="400" text-anchor="middle" dominant-baseline="central" textLength="14" lengthAdjust="spacingAndGlyphs">2%</text>
<text x="722.6" y="822" font-size="10.3" fill="#5a6573" font-weight="400" text-anchor="middle" dominant-baseline="central" textLength="14" lengthAdjust="spacingAndGlyphs">3%</text>
<text x="526" y="842.5" font-size="10.5" fill="#626d7a" font-weight="400" text-anchor="middle" dominant-baseline="central">01</text>
<text x="558.2" y="842.5" font-size="10.5" fill="#626d7a" font-weight="400" text-anchor="middle" dominant-baseline="central">14</text>
<text x="588" y="842.5" font-size="10.5" fill="#626d7a" font-weight="400" text-anchor="middle" dominant-baseline="central">133</text>
<text x="620" y="842.5" font-size="10.5" fill="#626d7a" font-weight="400" text-anchor="middle" dominant-baseline="central">104</text>
<text x="654.7" y="842.5" font-size="10.5" fill="#626d7a" font-weight="400" text-anchor="middle" dominant-baseline="central">335</text>
<text x="693.75" y="842.5" font-size="10.5" fill="#626d7a" font-weight="400" text-anchor="middle" dominant-baseline="central">33%</text>
<text x="486.6" y="713.5" font-size="13.3" fill="#3a4653" font-weight="400" text-anchor="start" dominant-baseline="central" textLength="91.4" lengthAdjust="spacingAndGlyphs" stroke="#3a4653" stroke-width="0.55">Attendnce Rete</text>
<text x="727.2" y="713.5" font-size="8.3" fill="#6d7886" font-weight="400" text-anchor="end" dominant-baseline="central" textLength="37.5" lengthAdjust="spacingAndGlyphs">Macnmily</text>
</svg>
</body></html>
